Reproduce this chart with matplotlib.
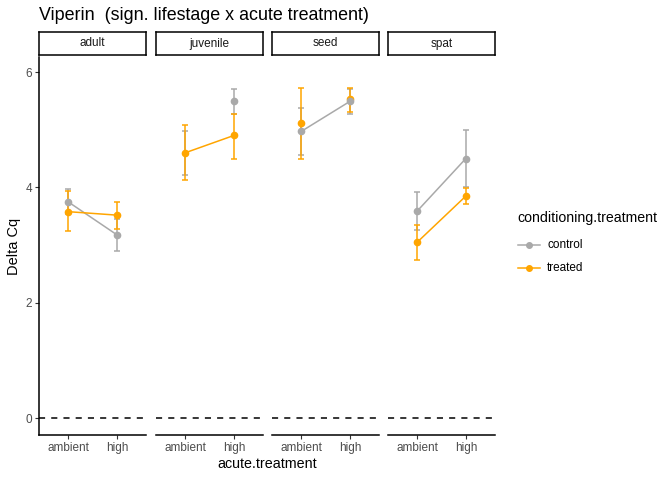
import matplotlib
matplotlib.use("Agg")
from matplotlib import pyplot as plt

plt.rcParams['font.family'] = ['Liberation Sans', 'DejaVu Sans']

stages = ["adult", "juvenile", "seed", "spat"]
acute = ["ambient", "high"]
groups = ["control", "treated"]
colors = {"control": "#A9A9A9", "treated": "#FFA500"}
nan = float("nan")

# mean, lower, upper per lifestage, [ambient, high]
mean = {
    "control": {"adult": [3.75, 3.18], "juvenile": [nan, 5.49],
                "seed": [4.97, 5.49], "spat": [3.59, 4.50]},
    "treated": {"adult": [3.58, 3.52], "juvenile": [4.60, 4.90],
                "seed": [5.11, 5.53], "spat": [3.05, 3.85]},
}
lower = {
    "control": {"adult": [3.54, 2.90], "juvenile": [4.22, 5.28],
                "seed": [4.57, 5.28], "spat": [3.27, 4.00]},
    "treated": {"adult": [3.24, 3.28], "juvenile": [4.12, 4.49],
                "seed": [4.50, 5.30], "spat": [2.74, 3.72]},
}
upper = {
    "control": {"adult": [3.98, 3.46], "juvenile": [4.98, 5.71],
                "seed": [5.38, 5.71], "spat": [3.92, 5.00]},
    "treated": {"adult": [3.94, 3.75], "juvenile": [5.09, 5.28],
                "seed": [5.72, 5.72], "spat": [3.35, 3.99]},
}
# centre used for the error bars where no point is drawn
err_centre = {("control", "juvenile"): [4.60, 5.49]}
# panels where the reference shows no connecting line for a group
no_line = {("control", "juvenile"), ("treated", "seed")}

W, H = 672, 480
fig = plt.figure(figsize=(W / 100, H / 100), dpi=100)

left_px = [39, 156, 272, 388]
pw = 107
top_px, bot_px = 57, 435
strip_top = 32
tick_col = "#4D4D4D"

x = [1, 2]
for i, st in enumerate(stages):
    ax = fig.add_axes([left_px[i] / W, 1 - bot_px / H, pw / W, (bot_px - top_px) / H])
    ax.axhline(0, color="black", linestyle=(0, (4, 4)), linewidth=1.1, zorder=1)
    for g in groups:
        m = err_centre.get((g, st), mean[g][st])
        lo = lower[g][st]
        hi = upper[g][st]
        yerr = [[m[k] - lo[k] for k in range(2)], [hi[k] - m[k] for k in range(2)]]
        ax.errorbar(x, m, yerr=yerr, fmt="none", ecolor=colors[g], elinewidth=1.1,
                    capsize=2.5, capthick=1.1, zorder=2)
    for g in groups:
        if (g, st) not in no_line:
            ax.plot(x, mean[g][st], color=colors[g], linewidth=1.1, zorder=3)
    for g in ["treated", "control"]:
        ax.plot(x, mean[g][st], "o", color=colors[g], markersize=4.5, zorder=4)
    ax.set_xlim(0.4, 2.6)
    ax.set_ylim(-0.29, 6.26)
    ax.set_xticks(x)
    ax.set_xticklabels(acute, fontsize=8.5, color=tick_col)
    for s in ["top", "right"]:
        ax.spines[s].set_visible(False)
    ax.spines["bottom"].set_linewidth(1.1)
    ax.tick_params(axis="x", length=3, width=0.8, color="#333333", pad=2)
    if i == 0:
        ax.set_yticks([0, 2, 4, 6])
        ax.set_yticklabels(["0", "2", "4", "6"], fontsize=8.5, color=tick_col)
        ax.tick_params(axis="y", length=3, width=0.8, color="#333333", pad=2)
        ax.spines["left"].set_linewidth(1.1)
        ax.set_ylabel("Delta Cq", fontsize=10.5, labelpad=3)
    else:
        ax.spines["left"].set_visible(False)
        ax.set_yticks([])
    # strip
    sax = fig.add_axes([left_px[i] / W, 1 - 55 / H, pw / W, (55 - strip_top) / H])
    sax.set_xticks([])
    sax.set_yticks([])
    for s in sax.spines.values():
        s.set_linewidth(1.1)
    sax.text(0.5, 0.5, st, ha="center", va="center", fontsize=8.5, color="#1A1A1A",
             transform=sax.transAxes)

fig.text(39 / W, 1 - 15 / H, "Viperin  (sign. lifestage x acute treatment)",
         fontsize=12.9, ha="left", va="center")
fig.text((39 + 495) / 2 / W, 1 - 464 / H, "acute.treatment", fontsize=10.3,
         ha="center", va="center")

# legend
fig.text(517 / W, 1 - 218 / H, "conditioning.treatment", fontsize=10.2, ha="left", va="center")
for k, g in enumerate(groups):
    yy = 1 - (245 + 23 * k) / H
    fig.add_artist(plt.Line2D([518 / W, 540 / W], [yy, yy], color=colors[g], linewidth=1.1))
    fig.add_artist(plt.Line2D([529 / W], [yy], marker="o", color=colors[g], markersize=4))
    fig.text(547 / W, yy, g, fontsize=8.5, ha="left", va="center")

fig.savefig("out.png", dpi=100)
